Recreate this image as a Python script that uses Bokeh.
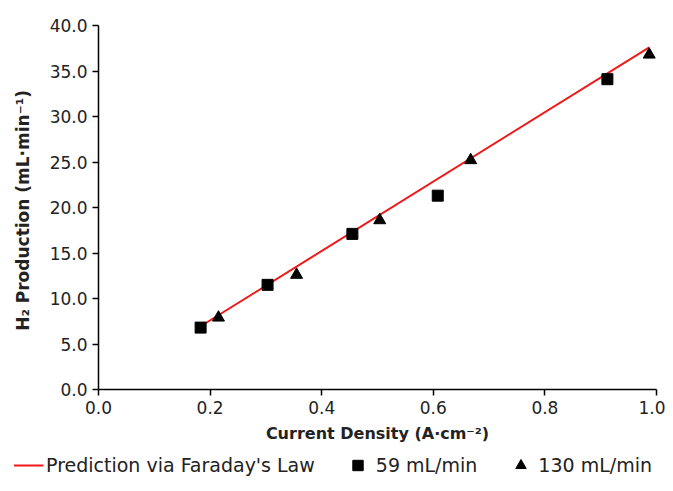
from bokeh.plotting import figure
from bokeh.models import Range1d, Legend, LegendItem, FixedTicker, PrintfTickFormatter
from bokeh.embed import file_html
from bokeh.resources import INLINE

# Data
line_x = [0.183, 0.987]
line_y = [6.95, 37.6]

sq_x = [0.183, 0.303, 0.455, 0.608, 0.912]
sq_y = [6.8, 11.5, 17.1, 21.3, 34.1]

tri_x = [0.215, 0.355, 0.504, 0.667, 0.987]
tri_y = [7.9, 12.6, 18.6, 25.2, 36.8]

x_ticks = [0.0, 0.2, 0.4, 0.6, 0.8, 1.0]
y_ticks = [0, 5, 10, 15, 20, 25, 30, 35, 40]

FONT = "DejaVu Sans"
RED = "#f01818"
TXT = "#222222"

p = figure(frame_width=558, frame_height=364, output_backend="svg", toolbar_location=None,
           x_range=Range1d(0, 1.0), y_range=Range1d(0, 40))
p.min_border_left = 98
p.min_border_right = 9
p.min_border_top = 25
p.min_border_bottom = 0
p.outline_line_color = None
p.xgrid.grid_line_color = None
p.ygrid.grid_line_color = None

p.line(line_x, line_y, line_color=RED, line_width=2)
p.scatter(sq_x, sq_y, marker="square", size=11, fill_color="black", line_color="black")
p.scatter(tri_x, tri_y, marker="triangle", size=12, fill_color="black", line_color="black")

for ax in (p.xaxis[0], p.yaxis[0]):
    ax.axis_line_color = "black"
    ax.axis_line_width = 1.5
    ax.major_tick_line_color = "black"
    ax.major_tick_line_width = 1.5
    ax.major_tick_out = 6
    ax.major_tick_in = 0
    ax.minor_tick_line_color = None
    ax.major_label_text_font = FONT
    ax.major_label_text_font_size = "17px"
    ax.major_label_text_color = TXT
    ax.axis_label_text_font = FONT
    ax.axis_label_text_font_style = "bold"
    ax.axis_label_text_color = TXT

p.xaxis.axis_label_text_font_size = "16px"
p.yaxis.axis_label_text_font_size = "17px"
p.xaxis.ticker = FixedTicker(ticks=x_ticks)
p.yaxis.ticker = FixedTicker(ticks=y_ticks)
p.xaxis.formatter = PrintfTickFormatter(format="%.1f")
p.yaxis.formatter = PrintfTickFormatter(format="%.1f")
p.xaxis.axis_label = "Current Density (A\u00b7cm\u207b\u00b2)"
p.yaxis.axis_label = "H\u2082 Production  (mL\u00b7min\u207b\u00b9)"
p.xaxis.major_label_standoff = 5
p.yaxis.major_label_standoff = 5
p.xaxis.axis_label_standoff = 7
p.yaxis.axis_label_standoff = 14

# Legend strip below the chart (separate root, no frame alignment).
# Its proxy renderers sit outside the strip's visible range.
lg = figure(width=665, height=40, output_backend="svg", toolbar_location=None,
            x_range=Range1d(0, 1), y_range=Range1d(0, 1),
            x_axis_location=None, y_axis_location=None)
lg.min_border = 0
lg.outline_line_color = None
lg.xgrid.grid_line_color = None
lg.ygrid.grid_line_color = None
r1 = lg.line([-5, -4], [-5, -5], line_color=RED, line_width=2)
r2 = lg.scatter([-5], [-5], marker="square", size=11, fill_color="black", line_color="black")
r3 = lg.scatter([-5], [-5], marker="triangle", size=12, fill_color="black", line_color="black")

legend = Legend(items=[
    LegendItem(label="Prediction via Faraday's Law", renderers=[r1]),
    LegendItem(label="59 mL/min", renderers=[r2]),
    LegendItem(label="130 mL/min", renderers=[r3]),
], orientation="horizontal", location="center")
legend.border_line_color = None
legend.background_fill_alpha = 0
legend.label_text_font = FONT
legend.label_text_font_size = "19px"
legend.label_text_color = TXT
legend.glyph_width = 30
legend.glyph_height = 26
legend.spacing = 28
legend.label_standoff = 3
legend.padding = 2
legend.margin = 0
lg.add_layout(legend, "center")

open("out.html", "w").write(file_html([p, lg], INLINE))
